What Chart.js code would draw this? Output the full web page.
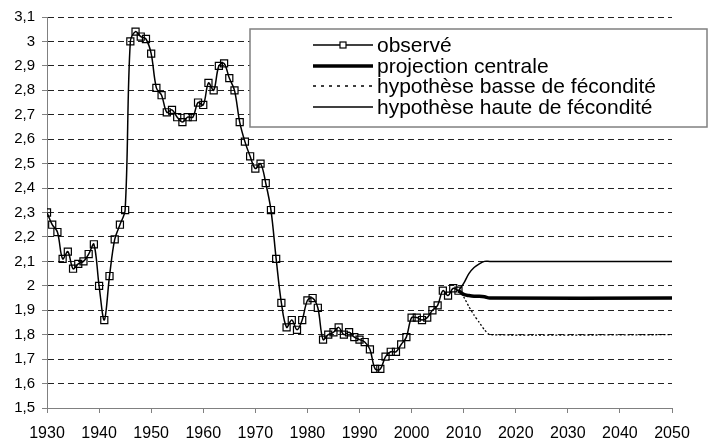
<!DOCTYPE html>
<html>
<head>
<meta charset="utf-8">
<script src="https://cdn.jsdelivr.net/npm/chart.js@4/dist/chart.umd.min.js"></script>
<style>
  html, body { margin: 0; padding: 0; background: #fff; }
  #wrap { width: 709px; height: 445px; }
</style>
</head>
<body>
<div id="wrap"><canvas id="myChart"></canvas></div>
<script>
// observed fertility (indicateur conjoncturel), 1930-2009
var obsYears = [1930, 1931, 1932, 1933, 1934, 1935, 1936, 1937, 1938, 1939,
  1940, 1941, 1942, 1943, 1944, 1945, 1946, 1947, 1948, 1949,
  1950, 1951, 1952, 1953, 1954, 1955, 1956, 1957, 1958, 1959,
  1960, 1961, 1962, 1963, 1964, 1965, 1966, 1967, 1968, 1969,
  1970, 1971, 1972, 1973, 1974, 1975, 1976, 1977, 1978, 1979,
  1980, 1981, 1982, 1983, 1984, 1985, 1986, 1987, 1988, 1989,
  1990, 1991, 1992, 1993, 1994, 1995, 1996, 1997, 1998, 1999,
  2000, 2001, 2002, 2003, 2004, 2005, 2006, 2007, 2008, 2009];
var obsValues = [2.30, 2.25, 2.22, 2.11, 2.14, 2.07, 2.09, 2.10, 2.13, 2.17,
  2.00, 1.86, 2.04, 2.19, 2.25, 2.31, 3.00, 3.04, 3.02, 3.01,
  2.95, 2.81, 2.78, 2.71, 2.72, 2.69, 2.67, 2.69, 2.69, 2.75,
  2.74, 2.83, 2.80, 2.90, 2.91, 2.85, 2.80, 2.67, 2.59, 2.53,
  2.48, 2.50, 2.42, 2.31, 2.11, 1.93, 1.83, 1.86, 1.82, 1.86,
  1.94, 1.95, 1.91, 1.78, 1.80, 1.81, 1.83, 1.80, 1.81, 1.79,
  1.78, 1.77, 1.74, 1.66, 1.66, 1.71, 1.73, 1.73, 1.76, 1.79,
  1.87, 1.87, 1.86, 1.87, 1.90, 1.92, 1.98, 1.96, 1.99, 1.98];

// projections 2009-2050
var projYears = [2009, 2010, 2011, 2012, 2013, 2014, 2015, 2050];
var centralValues = [1.98, 1.965, 1.96, 1.957, 1.957, 1.955, 1.95, 1.95];
var lowValues = [1.98, 1.955, 1.915, 1.88, 1.85, 1.82, 1.80, 1.80];
var highValues = [1.98, 2.01, 2.05, 2.075, 2.09, 2.10, 2.10, 2.10];

var xTicks = [1930, 1940, 1950, 1960, 1970, 1980, 1990, 2000, 2010, 2020, 2030, 2040, 2050];
var yMin = 1.5, yMax = 3.1, yStep = 0.1;

var labels = ['observé', 'projection centrale', 'hypothèse basse de fécondité', 'hypothèse haute de fécondité'];

function pairs(xs, ys) {
  return xs.map(function (x, i) { return { x: x, y: ys[i] }; });
}

var FONT = '"Liberation Sans", Arial, sans-serif';

// legend box drawn inside the plot, Excel style
var legendBox = {
  id: 'legendBox',
  afterDatasetsDraw: function (chart) {
    var ctx = chart.ctx;
    var bx = 250, by = 29, bw = 457, bh = 98;
    ctx.save();
    ctx.fillStyle = '#fff';
    ctx.fillRect(bx, by, bw, bh);
    ctx.strokeStyle = '#808080';
    ctx.lineWidth = 1.5;
    ctx.strokeRect(bx, by, bw, bh);
    var rows = [45, 66, 86, 107];
    chart.data.datasets.forEach(function (ds, i) {
      var y = rows[i];
      ctx.save();
      ctx.strokeStyle = '#000';
      ctx.lineWidth = ds.borderWidth;
      ctx.setLineDash(ds.legendDash || ds.borderDash || []);
      ctx.beginPath();
      ctx.moveTo(313, y);
      ctx.lineTo(373, y);
      ctx.stroke();
      ctx.restore();
      if (ds.pointRadius) {
        ctx.save();
        ctx.fillStyle = '#fff';
        ctx.strokeStyle = '#000';
        ctx.lineWidth = 1.2;
        ctx.fillRect(340, y - 3, 6, 6);
        ctx.strokeRect(340, y - 3, 6, 6);
        ctx.restore();
      }
      ctx.fillStyle = '#000';
      ctx.font = '21px ' + FONT;
      ctx.textBaseline = 'middle';
      ctx.textAlign = 'left';
      ctx.fillText(ds.label, 377, y + 1);
    });
    ctx.restore();
  }
};

var ctx = document.getElementById('myChart').getContext('2d');
var myChart = new Chart(ctx, {
  type: 'line',
  data: {
    datasets: [{
      label: labels[0],
      data: pairs(obsYears, obsValues),
      borderColor: '#000',
      borderWidth: 1.5,
      tension: 0.35,
      pointStyle: 'rect',
      pointRadius: 5,
      pointBorderWidth: 1.2,
      pointBorderColor: '#000',
      pointBackgroundColor: 'rgba(255,255,255,0)'
    },
    {
      label: labels[1],
      data: pairs(projYears, centralValues),
      borderColor: '#000',
      borderWidth: 3.5,
      tension: 0.3,
      pointRadius: 0
    },
    {
      label: labels[2],
      data: pairs(projYears, lowValues),
      borderColor: '#000',
      borderWidth: 1.3,
      borderDash: [2, 2],
      legendDash: [3, 5],
      tension: 0.2,
      pointRadius: 0
    },
    {
      label: labels[3],
      data: pairs(projYears, highValues),
      borderColor: '#000',
      borderWidth: 1.5,
      tension: 0.35,
      pointRadius: 0
    }]
  },
  options: {
    responsive: true,
    maintainAspectRatio: false,
    animation: false,
    layout: { padding: { top: 17, right: 37, left: 0, bottom: 0 } },
    plugins: {
      legend: { display: false },
      tooltip: { enabled: false }
    },
    scales: {
      x: {
        type: 'linear',
        min: 1930,
        max: 2050,
        afterBuildTicks: function (scale) {
          scale.ticks = xTicks.map(function (v) { return { value: v }; });
        },
        afterFit: function (scale) { scale.height = 37; },
        ticks: {
          color: '#000',
          padding: 11,
          maxRotation: 0,
          font: { family: FONT, size: 16 },
          callback: function (v) { return String(v); }
        },
        grid: {
          drawOnChartArea: false,
          drawTicks: true,
          tickLength: 5,
          tickColor: '#808080'
        },
        border: { display: true, color: '#808080', width: 1 }
      },
      y: {
        min: yMin,
        max: yMax,
        afterFit: function (scale) { scale.width = 47; },
        ticks: {
          stepSize: yStep,
          color: '#000',
          padding: 7,
          font: { family: FONT, size: 15 },
          callback: function (v) {
            return String(Math.round(v * 10) / 10).replace('.', ',');
          }
        },
        grid: {
          color: function (c) {
            return Math.abs(c.tick.value - yMin) < 1e-6 ? 'rgba(0,0,0,0)' : '#222';
          },
          lineWidth: 1,
          drawTicks: true,
          tickLength: 5,
          tickColor: '#808080'
        },
        border: { display: true, color: '#808080', width: 1, dash: [6, 4] }
      }
    }
  },
  plugins: [legendBox]
});
</script>
</body>
</html>
